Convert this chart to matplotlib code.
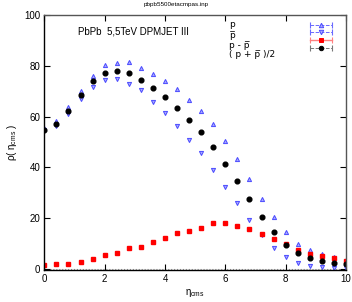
import matplotlib.pyplot as plt
import numpy as np
from matplotlib.lines import Line2D
from matplotlib.legend_handler import HandlerLine2D

plt.rcParams['font.family'] = ['Liberation Sans', 'DejaVu Sans']
plt.rcParams['mathtext.fontset'] = 'custom'
plt.rcParams['mathtext.rm'] = 'Liberation Sans'
plt.rcParams['mathtext.it'] = 'Liberation Sans'

eta = np.arange(0, 10.01, 0.4)

# p
prot = [55.4, 58.5, 63.8, 70.3, 76.1, 80.4, 81.4, 81.5, 79.2, 77.0, 74.0, 70.9, 66.7,
        62.1, 57.2, 50.6, 43.4, 35.6, 27.7, 20.4, 14.6, 9.9, 7.5, 5.9, 4.6, 3.5]
# anti-p
aprot = [54.6, 56.4, 61.0, 67.1, 71.9, 74.4, 74.8, 72.8, 70.5, 65.9, 61.4, 56.3, 51.0,
         45.6, 38.8, 32.3, 26.0, 19.3, 13.5, 8.2, 4.6, 2.2, 0.9, 0.5, 0.4, 0.2]
# p - anti-p
diff = [1.3, 1.7, 2.0, 2.8, 3.7, 5.3, 6.2, 8.2, 8.6, 10.5, 12.0, 14.2, 15.0,
        15.9, 17.9, 17.9, 17.0, 15.7, 13.8, 11.8, 9.6, 7.2, 5.8, 5.1, 4.3, 3.2]
# (p + anti-p)/2
avg = [54.8, 57.2, 62.2, 68.6, 74.0, 77.3, 78.0, 77.2, 74.6, 71.4, 67.7, 63.6, 58.9,
       53.8, 48.1, 41.5, 34.6, 27.5, 20.5, 14.3, 9.5, 6.2, 4.1, 2.9, 2.2, 1.7]

labels = ['p', 'p\u0305', 'p - p\u0305', '( p + p\u0305 )/2']

fig = plt.figure(figsize=(3.52, 3.02), dpi=100)
ax = fig.add_axes([0.126, 0.106, 0.857, 0.843])

blue_face = '#a8a8ff'
blue_edge = '#4a4aff'
ax.plot(eta, prot, ls='none', marker='^', ms=3.0, mfc=blue_face, mec=blue_edge, mew=0.7)
ax.plot(eta, aprot, ls='none', marker='v', ms=3.0, mfc=blue_face, mec=blue_edge, mew=0.7)
ax.plot(eta, diff, ls='none', marker='s', ms=3.2, color='#ff0000')
ax.plot(eta, avg, ls='none', marker='o', ms=3.4, color='black')

ax.axhline(0, color='#999999', ls=':', lw=0.8, zorder=0)

ax.set_xlim(0, 10)
ax.set_ylim(-0.5, 100)
ax.set_xticks(np.arange(0, 11, 2))
ax.set_yticks(np.arange(0, 101, 20))
ax.tick_params(direction='in', length=4, width=0.8, top=True, right=True,
               labelsize=7, pad=3)
for side in ['left', 'bottom']:
    ax.spines[side].set_linewidth(1.0)
    ax.spines[side].set_color('black')
for side in ['top', 'right']:
    ax.spines[side].set_linewidth(1.0)
    ax.spines[side].set_color('#555555')

ax.set_xlabel(r'$\eta_{\mathrm{cms}}$', fontsize=7, labelpad=2)
ax.set_ylabel(r'$\rho$( $\eta_{\mathrm{cms}}$ )', fontsize=7, labelpad=4)
fig.suptitle('pbpb5500etacmpas.inp', fontsize=4.5, y=0.995)

ax.text(0.11, 0.955, 'PbPb  5,5TeV DPMJET III', transform=ax.transAxes,
        fontsize=7, va='top', ha='left')

# legend keys in gnuplot style: line with end caps plus marker
caps = []
marks = []
styles = [('#6a6aff', '--', 0.7, '^', blue_face, blue_edge),
          ('#6a6aff', '--', 0.7, 'v', blue_face, blue_edge),
          ('#ff8080', '-', 1.0, 's', '#ff0000', '#ff0000'),
          ('#777777', '--', 0.7, 'o', 'black', 'black')]
hmap = {}
for col, ls, lw, mk, fc, ec in styles:
    c = Line2D([], [], color=col, ls=ls, lw=lw, marker='|', ms=4, mew=0.8, mec=col)
    m = Line2D([], [], ls='none', marker=mk, ms=3.2, mfc=fc, mec=ec, mew=0.7)
    hmap[c] = HandlerLine2D(numpoints=2)
    hmap[m] = HandlerLine2D(numpoints=1)
    caps.append(c)
    marks.append(m)

ax.legend(list(zip(caps, marks)), [''] * 4, handler_map=hmap, loc='upper right',
          frameon=False, fontsize=5, handlelength=3.9, handletextpad=0,
          labelspacing=0.12, borderaxespad=0.0, borderpad=0,
          bbox_to_anchor=(0.962, 0.974))

# legend texts, left aligned like gnuplot's key
for lab, ypos in zip(labels, [0.963, 0.923, 0.883, 0.845]):
    ax.text(0.612, ypos, lab, transform=ax.transAxes, fontsize=6.5,
            va='center', ha='left', family=['DejaVu Sans'])

fig.savefig('out.png', dpi=100)
